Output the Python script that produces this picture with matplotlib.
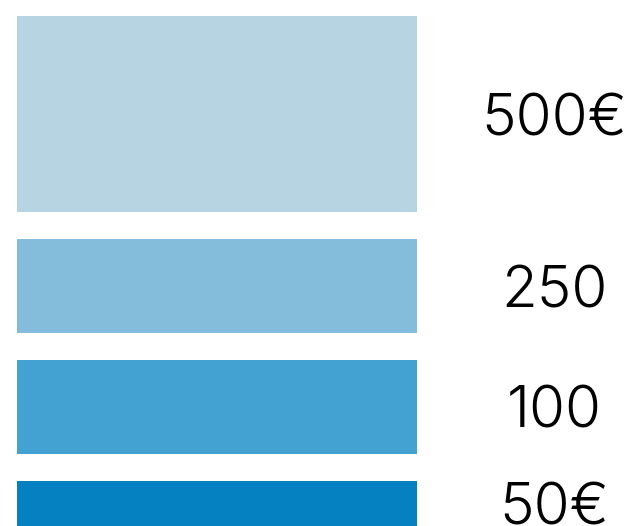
import matplotlib
matplotlib.use("Agg")
import matplotlib.pyplot as plt

# legend bands, top to bottom
labels = ["500€", "250", "100", "50€"]
band_heights = [196, 94, 94, 45]
colors = ["#b6d4e1", "#84bddb", "#43a2d1", "#0581c1"]

fig = plt.figure(figsize=(6.32, 5.26), dpi=100)
ax = fig.add_axes([0, 0, 1, 1])
ax.set_xlim(0, 632)
ax.set_ylim(526, 0)
ax.axis("off")

gap = 27
top = 16
for lab, h, c in zip(labels, band_heights, colors):
    ax.bar(17, h, width=400, bottom=top, align="edge", color=c, linewidth=0)
    # baseline sits about half a cap height below the band middle
    ax.text(554, top + h / 2 + 21, lab, ha="center", va="baseline",
            fontsize=42, fontweight=300, family=["Inter", "DejaVu Sans"],
            color="black")
    top += h + gap

fig.savefig("out.png", dpi=100)
